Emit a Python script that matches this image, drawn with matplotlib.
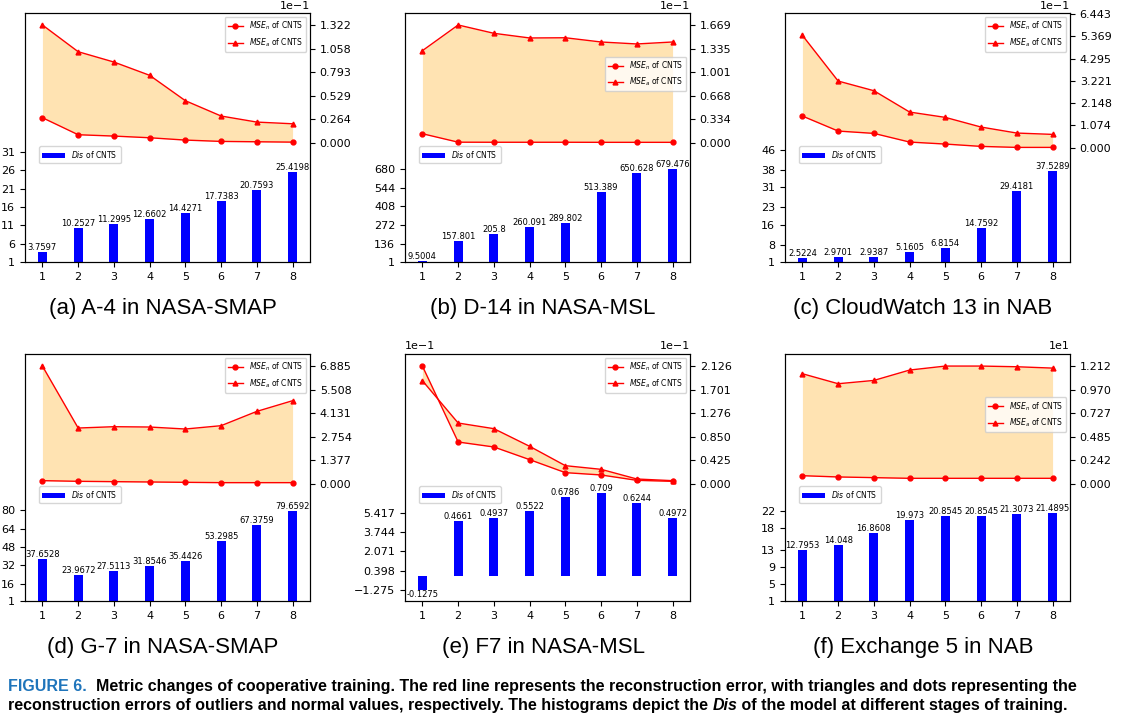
import numpy as np
import matplotlib
matplotlib.use('Agg')
from matplotlib import pyplot as plt

X = [1, 2, 3, 4, 5, 6, 7, 8]

# (a) A-4 in NASA-SMAP
DIS_A = [3.7597, 10.2527, 11.2995, 12.6602, 14.4271, 17.7383, 20.7593, 25.4198]
MSEN_A = [0.281, 0.090, 0.075, 0.056, 0.030, 0.015, 0.011, 0.007]
MSEA_A = [1.322, 1.022, 0.906, 0.757, 0.472, 0.300, 0.232, 0.213]
LT_A = [1, 6, 11, 16, 21, 26, 31]
RT_A = [0.000, 0.264, 0.529, 0.793, 1.058, 1.322]

# (b) D-14 in NASA-MSL
DIS_B = [9.5004, 157.801, 205.8, 260.091, 289.802, 513.389, 650.628, 679.476]
MSEN_B = [0.128, 0.008, 0.007, 0.007, 0.007, 0.006, 0.006, 0.006]
MSEA_B = [1.305, 1.669, 1.551, 1.485, 1.488, 1.428, 1.400, 1.428]
LT_B = [1, 136, 272, 408, 544, 680]
RT_B = [0.000, 0.334, 0.668, 1.001, 1.335, 1.669]

# (c) CloudWatch 13 in NAB
DIS_C = [2.5224, 2.9701, 2.9387, 5.1605, 6.8154, 14.7592, 29.4181, 37.5289]
MSEN_C = [1.526, 0.803, 0.691, 0.273, 0.177, 0.064, 0.016, 0.016]
MSEA_C = [5.415, 3.213, 2.747, 1.719, 1.462, 0.996, 0.707, 0.643]
LT_C = [1, 8, 16, 23, 31, 38, 46]
RT_C = [0.000, 1.074, 2.148, 3.221, 4.295, 5.369, 6.443]

# (d) G-7 in NASA-SMAP
DIS_D = [37.6528, 23.9672, 27.5113, 31.8546, 35.4426, 53.2985, 67.3759, 79.6592]
MSEN_D = [0.176, 0.137, 0.117, 0.098, 0.078, 0.059, 0.059, 0.059]
MSEA_D = [6.885, 3.257, 3.335, 3.316, 3.199, 3.394, 4.232, 4.857]
LT_D = [1, 16, 32, 48, 64, 80]
RT_D = [0.000, 1.377, 2.754, 4.131, 5.508, 6.885]

# (e) F7 in NASA-MSL
DIS_E = [-0.1275, 0.4661, 0.4937, 0.5522, 0.6786, 0.709, 0.6244, 0.4972]
MSEN_E = [2.126, 0.753, 0.663, 0.434, 0.199, 0.157, 0.060, 0.042]
MSEA_E = [1.861, 1.096, 0.994, 0.675, 0.325, 0.259, 0.084, 0.054]
LT_E = [-1.275, 0.398, 2.071, 3.744, 5.417]
RT_E = [0.000, 0.425, 0.850, 1.276, 1.701, 2.126]

# (f) Exchange 5 in NAB
DIS_F = [12.7953, 14.048, 16.8608, 19.973, 20.8545, 20.8545, 21.3073, 21.4895]
MSEN_F = [0.082, 0.069, 0.062, 0.055, 0.055, 0.055, 0.055, 0.055]
MSEA_F = [1.133, 1.030, 1.064, 1.171, 1.212, 1.212, 1.205, 1.191]
LT_F = [1, 5, 9, 13, 18, 22]
RT_F = [0.000, 0.242, 0.485, 0.727, 0.970, 1.212]

TITLES = ["(a) A-4 in NASA-SMAP", "(b) D-14 in NASA-MSL", "(c) CloudWatch 13 in NAB",
          "(d) G-7 in NASA-SMAP", "(e) F7 in NASA-MSL", "(f) Exchange 5 in NAB"]


def lims(lo, hi, f_lo, f_hi):
    span = (hi - lo) / (f_hi - f_lo)
    return lo - f_lo * span, hi + (1 - f_hi) * span


def panel(rect, dis, msen, msea, lt, rt, title, lscale, loff, roff,
          lfrac, rfrac, legloc):
    ax = fig.add_axes(rect)
    ax.bar(X, dis, width=0.25, color='blue', label='$Dis$ of CNTS', zorder=2)
    for x, v in zip(X, dis):
        if v < 0:
            ax.text(x, v, str(v), ha='center', va='top', fontsize=6)
        else:
            ax.text(x, v, str(v), ha='center', va='bottom', fontsize=6)
    lt_pos = [t * lscale for t in lt]
    ax.set_ylim(*lims(lt_pos[0], lt_pos[-1], lfrac[0], lfrac[1]))
    ax.set_yticks(lt_pos)
    ax.set_yticklabels([('%g' % t) if lscale == 1 else ('%.3f' % t).replace('-', '\u2212') for t in lt])
    ax.set_xticks(X)
    ax.tick_params(labelsize=8)
    ax.legend(loc='upper left', bbox_to_anchor=(0.05, 0.465), borderaxespad=0,
              fontsize=5.5, handlelength=3)

    ax2 = ax.twinx()
    ax2.fill_between(X, msen, msea, color='orange', alpha=0.3, lw=0)
    ax2.plot(X, msen, color='red', marker='o', ms=3.5, lw=1, label='$MSE_n$ of CNTS')
    ax2.plot(X, msea, color='red', marker='^', ms=3.5, lw=1, label='$MSE_a$ of CNTS')
    ax2.set_ylim(*lims(rt[0], rt[-1], rfrac[0], rfrac[1]))
    ax2.set_yticks(rt)
    ax2.set_yticklabels(['%.3f' % t for t in rt])
    ax2.tick_params(labelsize=8)
    if legloc == 'upper right':
        ax2.legend(loc='upper right', fontsize=5.5)
    else:
        ax2.legend(loc='center right', bbox_to_anchor=(1.0, 0.755), fontsize=5.5)

    if roff:
        ax2.text(1.0, 1.01, roff, transform=ax2.transAxes, ha='right', va='bottom', fontsize=8)
    if loff:
        ax2.text(0.0, 1.01, loff, transform=ax2.transAxes, ha='left', va='bottom', fontsize=8)

    fig.text(rect[0] + rect[2] / 2 - 0.004, rect[1] - 0.064, title, ha='center', va='center',
             fontsize=16, family='Liberation Sans')


fig = plt.figure(figsize=(11.22, 7.24), dpi=100, facecolor='w')

cols = [25 / 1122, 405 / 1122, 785 / 1122]
w = 285 / 1122
row1 = (0.6381, 0.3439)
row2 = (0.1699, 0.3412)

panel([cols[0], row1[0], w, row1[1]], DIS_A, MSEN_A, MSEA_A, LT_A, RT_A, TITLES[0],
      1, None, '1e\u22121', (0, 0.442), (0.479, 0.952), 'upper right')
panel([cols[1], row1[0], w, row1[1]], DIS_B, MSEN_B, MSEA_B, LT_B, RT_B, TITLES[1],
      1, None, '1e\u22121', (0, 0.373), (0.479, 0.952), 'center right')
panel([cols[2], row1[0], w, row1[1]], DIS_C, MSEN_C, MSEA_C, LT_C, RT_C, TITLES[2],
      1, None, '1e\u22121', (0, 0.45), (0.459, 0.996), 'upper right')
panel([cols[0], row2[0], w, row2[1]], DIS_D, MSEN_D, MSEA_D, LT_D, RT_D, TITLES[3],
      1, None, None, (0, 0.367), (0.475, 0.951), 'upper right')
panel([cols[1], row2[0], w, row2[1]], DIS_E, MSEN_E, MSEA_E, LT_E, RT_E, TITLES[4],
      0.1, '1e\u22121', '1e\u22121', (0.043, 0.358), (0.475, 0.951), 'upper right')
panel([cols[2], row2[0], w, row2[1]], DIS_F, MSEN_F, MSEA_F, LT_F, RT_F, TITLES[5],
      1, None, '1e1', (0, 0.364), (0.475, 0.951), 'center right')

# caption
cap_font = dict(family=['Liberation Sans', 'DejaVu Sans'], fontweight='bold', fontsize=11.5)
fig_label = fig.text(0.007, 0.0456, 'FIGURE 6.', color='#1f75bb', va='baseline', **cap_font)
plt.annotate('  Metric changes of cooperative training. The red line represents the reconstruction error, '
             'with triangles and dots representing the',
             xy=(1.0, 0.0456), xycoords=(fig_label, 'figure fraction'),
             va='baseline', ha='left', annotation_clip=False, **cap_font)
t = fig.text(0.007, 0.0193, 'reconstruction errors of outliers and normal values, respectively. '
             'The histograms depict the ', va='baseline', **cap_font)
t = plt.annotate('Dis', xy=(1.0, 0.0193), xycoords=(t, 'figure fraction'), va='baseline',
                 ha='left', style='italic', annotation_clip=False, **cap_font)
plt.annotate(' of the model at different stages of training.', xy=(1.0, 0.0193),
             xycoords=(t, 'figure fraction'), va='baseline', ha='left',
             annotation_clip=False, **cap_font)

plt.savefig('out.png', dpi=100)
